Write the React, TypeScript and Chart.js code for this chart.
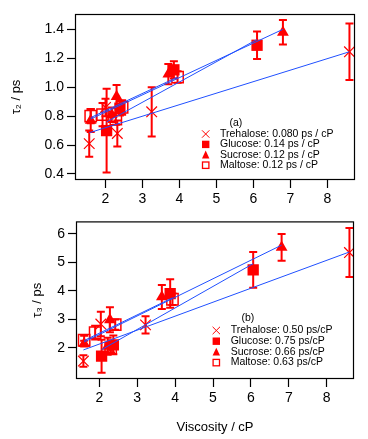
import React, { useEffect, useRef } from "react";
import { Chart, registerables } from "chart.js";
Chart.register(...registerables);

// ---------- Panel (a): tau2 vs viscosity ----------
const aTrehaloseVisc = [1.56, 2.0, 2.32, 3.25, 8.6];
const aTrehaloseTau = [0.61, 0.86, 0.68, 0.83, 1.245];
const aTrehaloseErr = [0.09, 0.06, 0.09, 0.17, 0.195];
const aGlucoseVisc = [2.03, 2.39, 3.85, 6.1];
const aGlucoseTau = [0.7, 0.855, 1.12, 1.29];
const aGlucoseErr = [0.29, 0.05, 0.06, 0.095];
const aSucroseVisc = [1.6, 2.17, 2.3, 3.7, 6.8];
const aSucroseTau = [0.77, 0.81, 0.935, 1.09, 1.38];
const aSucroseErr = [0.08, 0.05, 0.08, 0.07, 0.085];
const aMaltoseVisc = [1.6, 1.92, 2.28, 2.45, 3.95];
const aMaltoseTau = [0.8, 0.81, 0.78, 0.86, 1.07];
const aMaltoseErr = [0.05, 0.08, 0.04, 0.05, 0.04];
const aTrehaloseFitVisc = [1.56, 8.6];
const aTrehaloseFitTau = [0.685, 1.245];
const aGlucoseFitVisc = [2.03, 6.1];
const aGlucoseFitTau = [0.76, 1.33];
const aSucroseFitVisc = [1.6, 6.8];
const aSucroseFitTau = [0.78, 1.4];
const aMaltoseFitVisc = [1.6, 3.95];
const aMaltoseFitTau = [0.79, 1.07];
const aXTicks = [2, 3, 4, 5, 6, 7, 8];
const aYTicks = [0.4, 0.6, 0.8, 1.0, 1.2, 1.4];
const aLegendLabels = [
  "Trehalose: 0.080 ps / cP",
  "Glucose: 0.14 ps / cP",
  "Sucrose: 0.12 ps / cP",
  "Maltose: 0.12 ps / cP",
];

// ---------- Panel (b): tau3 vs viscosity ----------
const bTrehaloseVisc = [1.58, 2.04, 2.3, 3.22, 8.6];
const bTrehaloseTau = [1.53, 2.83, 1.95, 2.8, 5.34];
const bTrehaloseErr = [0.2, 0.43, 0.15, 0.3, 0.86];
const bGlucoseVisc = [2.06, 2.37, 3.87, 6.06];
const bGlucoseTau = [1.7, 2.1, 3.9, 4.73];
const bGlucoseErr = [0.58, 0.33, 0.5, 0.63];
const bSucroseVisc = [1.6, 2.22, 2.28, 3.65, 6.81];
const bSucroseTau = [2.14, 2.05, 2.98, 3.78, 5.52];
const bSucroseErr = [0.1, 0.3, 0.44, 0.42, 0.47];
const bMaltoseVisc = [1.6, 1.89, 2.3, 2.42, 3.93];
const bMaltoseTau = [2.26, 2.53, 1.98, 2.81, 3.7];
const bMaltoseErr = [0.16, 0.24, 0.15, 0.18, 0.2];
const bTrehaloseFitVisc = [1.58, 8.6];
const bTrehaloseFitTau = [1.92, 5.36];
const bGlucoseFitVisc = [2.06, 6.06];
const bGlucoseFitTau = [1.93, 4.95];
const bSucroseFitVisc = [1.6, 6.81];
const bSucroseFitTau = [2.2, 5.6];
const bMaltoseFitVisc = [1.6, 3.93];
const bMaltoseFitTau = [2.25, 3.75];
const bXTicks = [2, 3, 4, 5, 6, 7, 8];
const bYTicks = [2, 3, 4, 5, 6];
const bLegendLabels = [
  "Trehalose: 0.50 ps/cP",
  "Glucose: 0.75 ps/cP",
  "Sucrose: 0.66 ps/cP",
  "Maltose: 0.63 ps/cP",
];

const markerStyles = ["x", "square", "triangle", "open"];

const RED = "#ff0000";
const BLUE = "#2050ff";
const FONT = "'Liberation Sans', Arial, sans-serif";

function pts(xs: number[], ys: number[]) {
  return xs.map((v, i) => ({ x: v, y: ys[i] }));
}

function markerDataset(name: string, style: string, xs: number[], ys: number[], err: number[]) {
  const base: any = {
    label: name,
    data: pts(xs, ys),
    errors: err,
    order: 1,
    showLine: false,
    borderColor: RED,
    backgroundColor: RED,
  };
  if (style === "x") {
    Object.assign(base, { pointStyle: "crossRot", pointRadius: 7.5, pointBorderWidth: 1.2 });
  } else if (style === "square") {
    Object.assign(base, { pointStyle: "rect", pointRadius: 8, pointBorderWidth: 0 });
  } else if (style === "triangle") {
    Object.assign(base, { pointStyle: "triangle", pointRadius: 6.8, pointBorderWidth: 0 });
  } else {
    Object.assign(base, {
      pointStyle: "rect",
      pointRadius: 8,
      pointBorderWidth: 1.5,
      backgroundColor: "rgba(0,0,0,0)",
    });
  }
  return base;
}

function fitDataset(xs: number[], ys: number[]) {
  return {
    data: pts(xs, ys),
    order: 0,
    showLine: true,
    borderColor: BLUE,
    borderWidth: 1,
    pointRadius: 0,
    fill: false,
  };
}

const errorBarPlugin = {
  id: "errorBars",
  beforeDatasetsDraw(chart: any) {
    const { ctx } = chart;
    const xs = chart.scales.x;
    const ys = chart.scales.y;
    ctx.save();
    ctx.strokeStyle = RED;
    ctx.lineWidth = 2;
    chart.data.datasets.forEach((ds: any) => {
      if (!ds.errors) return;
      ds.data.forEach((p: any, i: number) => {
        const e = ds.errors[i];
        const px = xs.getPixelForValue(p.x);
        const y1 = ys.getPixelForValue(p.y + e);
        const y2 = ys.getPixelForValue(p.y - e);
        ctx.beginPath();
        ctx.moveTo(px, y1);
        ctx.lineTo(px, y2);
        ctx.moveTo(px - 4, y1);
        ctx.lineTo(px + 4, y1);
        ctx.moveTo(px - 4, y2);
        ctx.lineTo(px + 4, y2);
        ctx.stroke();
      });
    });
    ctx.restore();
  },
};

const framePlugin = {
  id: "frame",
  afterDraw(chart: any) {
    const { ctx, chartArea: a } = chart;
    ctx.save();
    ctx.strokeStyle = "#000";
    ctx.lineWidth = 1.2;
    ctx.strokeRect(a.left + 0.5, a.top + 0.5, a.right - a.left - 1, a.bottom - a.top - 1);
    ctx.restore();
  },
};

function drawMarker(ctx: CanvasRenderingContext2D, style: string, x: number, y: number, r: number) {
  ctx.save();
  ctx.strokeStyle = RED;
  ctx.fillStyle = RED;
  ctx.lineWidth = 1;
  if (style === "x") {
    ctx.beginPath();
    ctx.moveTo(x - r, y - r);
    ctx.lineTo(x + r, y + r);
    ctx.moveTo(x + r, y - r);
    ctx.lineTo(x - r, y + r);
    ctx.stroke();
  } else if (style === "square") {
    ctx.fillRect(x - r, y - r, 2 * r, 2 * r);
  } else if (style === "triangle") {
    ctx.beginPath();
    ctx.moveTo(x, y - r - 0.5);
    ctx.lineTo(x + r, y + r);
    ctx.lineTo(x - r, y + r);
    ctx.closePath();
    ctx.fill();
  } else {
    ctx.lineWidth = 1.3;
    ctx.strokeRect(x - r + 0.5, y - r + 0.5, 2 * r - 1, 2 * r - 1);
  }
  ctx.restore();
}

function legendPlugin(labels: string[], tag: string, pos: any, offsetY: number) {
  return {
    id: "sugarLegend",
    afterDraw(chart: any) {
      const ctx = chart.ctx;
      ctx.save();
      ctx.font = `10.5px ${FONT}`;
      ctx.fillStyle = "#000";
      ctx.textBaseline = "middle";
      ctx.textAlign = "left";
      ctx.fillText(tag, pos.tagX, pos.tagY - offsetY);
      labels.forEach((lab, i) => {
        const y = pos.rowY + i * pos.rowH - offsetY;
        drawMarker(ctx, markerStyles[i], pos.markX, y, 3.7);
        ctx.fillStyle = "#000";
        ctx.fillText(lab, pos.textX, y);
      });
      ctx.restore();
    },
  };
}

function axis(min: number, max: number, ticks: number[], fmt: (v: number) => string, size: number, isX: boolean, title?: any) {
  return {
    type: "linear",
    min,
    max,
    afterBuildTicks: (s: any) => {
      s.ticks = ticks.map((v) => ({ value: v }));
    },
    afterFit: (s: any) => {
      if (isX) s.height = size;
      else s.width = size;
    },
    ticks: {
      color: "#000",
      font: { family: FONT, size: 14 },
      padding: 3,
      autoSkip: false,
      maxRotation: 0,
      callback: (v: any) => fmt(Number(v)),
    },
    grid: {
      display: true,
      drawOnChartArea: false,
      drawTicks: true,
      tickLength: 8,
      color: "#000",
      tickColor: "#000",
      tickWidth: 1.2,
    },
    border: { display: false },
    title: title || { display: false },
  };
}

function makeConfig(panel: "a" | "b"): any {
  const isA = panel === "a";
  const datasets = isA
    ? [
        fitDataset(aTrehaloseFitVisc, aTrehaloseFitTau),
        fitDataset(aGlucoseFitVisc, aGlucoseFitTau),
        fitDataset(aSucroseFitVisc, aSucroseFitTau),
        fitDataset(aMaltoseFitVisc, aMaltoseFitTau),
        markerDataset("Trehalose", "x", aTrehaloseVisc, aTrehaloseTau, aTrehaloseErr),
        markerDataset("Glucose", "square", aGlucoseVisc, aGlucoseTau, aGlucoseErr),
        markerDataset("Sucrose", "triangle", aSucroseVisc, aSucroseTau, aSucroseErr),
        markerDataset("Maltose", "open", aMaltoseVisc, aMaltoseTau, aMaltoseErr),
      ]
    : [
        fitDataset(bTrehaloseFitVisc, bTrehaloseFitTau),
        fitDataset(bGlucoseFitVisc, bGlucoseFitTau),
        fitDataset(bSucroseFitVisc, bSucroseFitTau),
        fitDataset(bMaltoseFitVisc, bMaltoseFitTau),
        markerDataset("Trehalose", "x", bTrehaloseVisc, bTrehaloseTau, bTrehaloseErr),
        markerDataset("Glucose", "square", bGlucoseVisc, bGlucoseTau, bGlucoseErr),
        markerDataset("Sucrose", "triangle", bSucroseVisc, bSucroseTau, bSucroseErr),
        markerDataset("Maltose", "open", bMaltoseVisc, bMaltoseTau, bMaltoseErr),
      ];

  const yTitle = {
    display: true,
    text: isA ? "τ₂ / ps" : "τ₃ / ps",
    color: "#000",
    font: { family: FONT, size: 13 },
    padding: { top: isA ? 9 : 30, bottom: 0 },
  };
  const xTitle = isA
    ? undefined
    : {
        display: true,
        text: "Viscosity / cP",
        color: "#000",
        font: { family: FONT, size: 13 },
        padding: { top: 0, bottom: 4 },
      };

  const legend = isA
    ? legendPlugin(aLegendLabels, "(a)", { tagX: 229.5, tagY: 123, markX: 205.7, textX: 220, rowY: 134, rowH: 10.4 }, 0)
    : legendPlugin(bLegendLabels, "(b)", { tagX: 241.5, tagY: 318.5, markX: 216.3, textX: 230.7, rowY: 330.5, rowH: 10.7 }, 210);

  return {
    type: "scatter",
    data: { datasets },
    options: {
      responsive: false,
      animation: false,
      devicePixelRatio: 1,
      layout: {
        padding: isA ? { top: 14, right: 13, left: 0, bottom: 0 } : { top: 3, right: 14, left: 0, bottom: 0 },
      },
      plugins: { legend: { display: false }, tooltip: { enabled: false }, title: { display: false } },
      scales: {
        x: isA
          ? axis(1.175, 8.75, aXTicks, (v) => String(v), 30, true)
          : axis(1.385, 8.72, bXTicks, (v) => String(v), 60, true, xTitle),
        y: isA
          ? axis(0.3585, 1.506, aYTicks, (v) => v.toFixed(1), 75, false, yTitle)
          : axis(0.9, 6.433, bYTicks, (v) => String(v), 76, false, yTitle),
      },
    },
    plugins: [errorBarPlugin, framePlugin, legend],
  };
}

export default function App() {
  const topRef = useRef<HTMLCanvasElement>(null);
  const botRef = useRef<HTMLCanvasElement>(null);
  useEffect(() => {
    const c1 = new Chart(topRef.current as HTMLCanvasElement, makeConfig("a"));
    const c2 = new Chart(botRef.current as HTMLCanvasElement, makeConfig("b"));
    return () => {
      c1.destroy();
      c2.destroy();
    };
  }, []);
  return (
    <div style={{ position: "absolute", left: 0, top: 0, width: 368, height: 439, background: "#fff" }}>
      <canvas ref={topRef} width={368} height={210} style={{ position: "absolute", left: 0, top: 0, display: "block" }} />
      <canvas ref={botRef} width={368} height={229} style={{ position: "absolute", left: 0, top: 210, display: "block" }} />
    </div>
  );
}
